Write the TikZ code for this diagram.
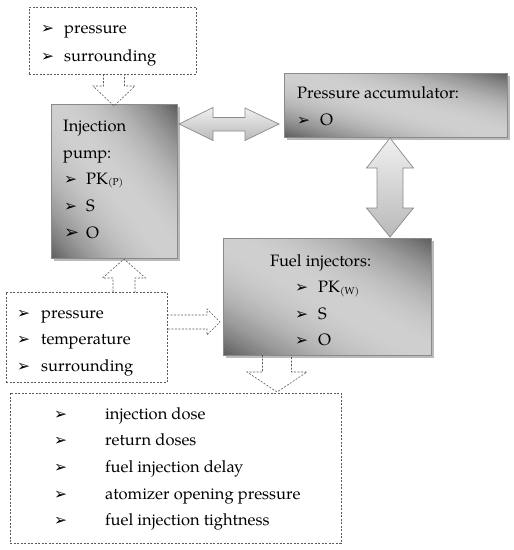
\documentclass[tikz,border=0pt]{standalone}
\usepackage{fontspec}
\setmainfont{TeX Gyre Pagella}
\newfontfamily\symfont{DejaVu Sans}
\usetikzlibrary{shadows}
\definecolor{boxdark}{HTML}{5E5E5E}
\definecolor{boxlight}{HTML}{D0D0D0}
\definecolor{edgegray}{HTML}{8A8A8A}
\definecolor{dashgray}{HTML}{5A5A5A}
\tikzset{
 solidbox/.style={draw=edgegray, line width=0.8pt, fill=boxlight,
   drop shadow={shadow xshift=2.5pt, shadow yshift=-2.5pt, fill=black!45, opacity=0.6},
   anchor=north west, inner sep=0pt, outer sep=0pt},
 boxedge/.style={draw=edgegray, line width=0.8pt},
 dotbox/.style={draw=dashgray, dash pattern=on 2pt off 1.5pt, line width=0.6pt, anchor=north west, inner sep=0pt, outer sep=0pt},
 hollow/.style={draw=dashgray, dash pattern=on 2pt off 1.5pt, line width=0.6pt, line join=miter},
 fatarrow/.style={draw=edgegray, line width=0.7pt, top color=gray!12, bottom color=gray!55},
 txt/.style={anchor=base west, inner sep=0pt, font=\fontsize{16.5}{18}\selectfont},
 bul/.style={anchor=base west, inner sep=0pt, font=\symfont\fontsize{15.5}{16}\selectfont},
}
\newcommand{\subtxt}[1]{\raisebox{-1.5pt}{\fontsize{10}{10}\selectfont #1}}
% diagonal gradient: dark at bottom-left and top-right, light band along TL-BR diagonal
% #1 node name, #2 width, #3 height (pt)
\newcommand{\gradbox}[3]{%
  \begin{scope}
    \clip (#1.north west) rectangle (#1.south east);
    \begin{scope}[shift={(#1.south west)}, x=#2pt, y=#3pt]
      \foreach \i in {0,...,59}{
        \pgfmathsetmacro{\sa}{2*\i/60}
        \pgfmathsetmacro{\sb}{2*(\i+1)/60+0.012}
        \pgfmathtruncatemacro{\q}{100*(1-pow(abs(2*(\i+0.5)/60-1),2.0))}
        \fill[boxlight!\q!boxdark] (\sa+1,-1) -- (-1,\sa+1) -- (-1,\sb+1) -- (\sb+1,-1) -- cycle;
      }
    \end{scope}
  \end{scope}
  \draw[boxedge] (#1.north west) rectangle (#1.south east);}
\begin{document}
\begin{tikzpicture}[x=1pt,y=-1pt]
\useasboundingbox (0,0) rectangle (514,550);
% dotted boxes
\node[dotbox, minimum width=167pt, minimum height=67pt] (top) at (29,7) {};
\node[dotbox, minimum width=161pt, minimum height=90pt] (left) at (6,292) {};
\node[dotbox, minimum width=331pt, minimum height=150pt] (bottom) at (10,393) {};
% solid boxes
\node[solidbox, minimum width=126pt, minimum height=154pt] (pump) at (51,104) {};
\gradbox{pump}{126}{154}
\node[solidbox, minimum width=223pt, minimum height=64pt] (acc) at (284,73) {};
\gradbox{acc}{223}{64}
\node[solidbox, minimum width=208pt, minimum height=117pt] (fuel) at (223,238) {};
\gradbox{fuel}{208}{117}
% fat double arrows
\coordinate (h1) at (179,124);
\coordinate (h2) at (279,124);
\draw[fatarrow] (h1) -- ++(34,-16.5) -- ++(0,10) -- (245,117.5) -- ++(0,-9.5) -- (h2) -- (245,140.5) -- ++(0,-9.5) -- (213,131) -- ++(0,9.5) -- cycle;
\coordinate (v1) at (390,138);
\coordinate (v2) at (390,237);
\draw[fatarrow] (v1) -- (413.5,168) -- (403,168) -- (403,208) -- (413.5,208) -- (v2) -- (366.5,208) -- (377,208) -- (377,168) -- (366.5,168) -- cycle;
% hollow dashed arrows
\draw[hollow] (103.5,74) -- (103.5,86) -- (93,86) -- (114,106) -- (135,86) -- (124.5,86) -- (124.5,74);
\draw[hollow] (113,292) -- (113,278) -- (102.5,278) -- (124,259) -- (145.5,278) -- (135,278) -- (135,292);
\draw[hollow] (167,315) -- (207,315) -- (207,309) -- (220,322) -- (207,335) -- (207,329) -- (167,329);
\draw[hollow] (262.5,355) -- (262.5,372) -- (247,372) -- (277,392) -- (307,372) -- (291.5,372) -- (291.5,355);
% top box text
\node[bul] (tb1) at (41,33) {➢};
\node[txt] (tt1) at (64,33) {pressure};
\node[bul] (tb2) at (41,61) {➢};
\node[txt] (tt2) at (64,61) {surrounding};
% pump text
\node[txt] (pt1) at (63,131) {Injection};
\node[txt] (pt2) at (63,158) {pump:};
\node[bul] (pb3) at (64,184) {➢};
\node[txt] (pt3) at (86,184) {PK\subtxt{(P)}};
\node[bul] (pb4) at (64,211) {➢};
\node[txt] (pt4) at (86,211) {S};
\node[bul, font=\symfont\fontsize{18}{18}\selectfont] (pb5) at (64,238) {➢};
\node[txt] (pt5) at (86,238) {O};
% accumulator text
\node[txt] (at1) at (297,98) {Pressure accumulator:};
\node[bul] (ab2) at (297,125) {➢};
\node[txt] (at2) at (320,125) {O};
% fuel injectors text
\node[txt] (ft1) at (270,266) {Fuel injectors:};
\node[bul] (fb2) at (295,292.5) {➢};
\node[txt] (ft2) at (318,292.5) {PK\subtxt{(W)}};
\node[bul] (fb3) at (295,319) {➢};
\node[txt] (ft3) at (318,319) {S};
\node[bul] (fb4) at (295,345) {➢};
\node[txt] (ft4) at (318,345) {O};
% left box text
\node[bul] (lb1) at (17,318) {➢};
\node[txt] (lt1) at (41,318) {pressure};
\node[bul] (lb2) at (17,344.5) {➢};
\node[txt] (lt2) at (41,344.5) {temperature};
\node[bul] (lb3) at (17,371) {➢};
\node[txt] (lt3) at (41,371) {surrounding};
% bottom box text
\node[bul] (bb1) at (54,419) {➢};
\node[txt] (bt1) at (105,419) {injection dose};
\node[bul] (bb2) at (54,445.7) {➢};
\node[txt] (bt2) at (105,445.7) {return doses};
\node[bul] (bb3) at (54,472.3) {➢};
\node[txt] (bt3) at (105,472.3) {fuel injection delay};
\node[bul] (bb4) at (54,499) {➢};
\node[txt] (bt4) at (105,499) {atomizer opening pressure};
\node[bul] (bb5) at (54,525.7) {➢};
\node[txt] (bt5) at (105,525.7) {fuel injection tightness};
\end{tikzpicture}
\end{document}
